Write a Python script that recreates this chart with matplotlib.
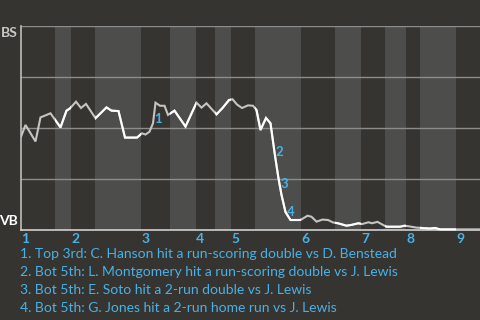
import numpy as np
import matplotlib
matplotlib.use("Agg")
import matplotlib.pyplot as plt
import matplotlib.transforms as mtransforms
from matplotlib.patches import Rectangle

plt.rcParams['font.family'] = ['Lato', 'DejaVu Sans']

# play number along x, home (BS) win probability in percent
plays = [0, 0.9, 2.9, 3.9, 5.9, 7.9, 9.1, 9.8, 11, 12, 13, 14.9, 17.1, 18.1, 19.5,
         20.8, 23.2, 24.2, 24.9, 25.7, 26.4, 26.9, 27.8, 28.7, 29.4, 30.7, 32.9,
         35.1, 36.1, 37.1, 39.1, 40.3, 41.6, 42.3, 43.2, 44.2, 45.4, 46.4, 47.1,
         47.9, 49.0, 49.9, 50.8, 51.5, 52.1, 52.9, 53.9, 55.9, 57.3, 58.1, 59.1,
         60.3, 61.4, 62.4, 63.4, 65.1, 66.1, 67.5, 68.2, 69.5, 70.2, 71.3, 72.1,
         73.1, 75.8, 76.7, 77.6, 79.0, 81.8, 82.8, 83.8, 87.0, 91.8]
win_prob = [45.7, 51.5, 43.4, 55.2, 57.2, 50.3, 58.5, 59.6, 62.9, 59.8, 61.8, 54.8,
            60.1, 58.5, 58.3, 45.3, 45.3, 47.4, 46.8, 48.2, 52.3, 62.4, 60.9, 60.9,
            56.4, 58.5, 50.7, 62.4, 60.0, 62.1, 56.7, 59.8, 63.7, 64.1, 61.5, 59.8,
            61.1, 60.9, 58.8, 49.0, 54.9, 52.3, 36.4, 25.3, 17.2, 8.8, 4.9, 4.9,
            7.0, 6.5, 4.1, 5.1, 4.9, 3.7, 3.3, 2.1, 2.5, 3.3, 2.9, 3.8, 3.3, 4.0,
            2.9, 1.6, 1.6, 2.1, 1.8, 1.2, 0.7, 1.0, 0.3, 0.3, 0.3]

inning_start = [0, 10, 24, 35, 42, 56, 68, 77, 87]
bottom_start = [6.8, 14.8, 29.8, 38.8, 46.8, 62.8, 72.8, 79.8]
innings = ['1', '2', '3', '4', '5', '6', '7', '8', '9']

event_plays = [26.5, 50.7, 51.7, 52.9]
event_labels = ['1', '2', '3', '4']
notes = [
    "1. Top 3rd: C. Hanson hit a run-scoring double vs D. Benstead",
    "2. Bot 5th: L. Montgomery hit a run-scoring double vs J. Lewis",
    "3. Bot 5th: E. Soto hit a 2-run double vs J. Lewis",
    "4. Bot 5th: G. Jones hit a 2-run home run vs J. Lewis",
]

bg = '#363430'
band = '#4d4d4b'
blue = '#48b2e8'
x_max = 91.8

fig = plt.figure(figsize=(4.8, 3.2), dpi=100, facecolor=bg)
ax = fig.add_axes([21 / 480, 90 / 320, 459 / 480, 204 / 320])
ax.set_facecolor(bg)
ax.set_xlim(0, x_max)
ax.set_ylim(0, 100)

# bottom half-inning bands
bands = []
for i, b in enumerate(bottom_start):
    end = inning_start[i + 1] if i + 1 < len(inning_start) else x_max
    ax.axvspan(b, end, color=band, lw=0, zorder=0)
    bands.append((b, end))

for y in [25, 50, 75, 100]:
    ax.axhline(y, color='#8c8c8a', lw=1.0, zorder=1)

for s in ['top', 'right']:
    ax.spines[s].set_visible(False)
ax.spines['left'].set_color('#bdbdbb')
ax.spines['bottom'].set_color('#d0d0d0')
ax.spines['left'].set_linewidth(1.2)
ax.spines['bottom'].set_linewidth(1.2)
ax.set_xticks([])
ax.set_yticks([])

# line: gray in the top halves, white in the bottom halves
ax.plot(plays, win_prob, color='#c4c4c2', lw=1.5, zorder=3, solid_joinstyle='miter')
for b, e in bands:
    ln, = ax.plot(plays, win_prob, color='white', lw=1.5, zorder=4, solid_joinstyle='miter')
    clip = Rectangle((b, -10), e - b, 120, transform=ax.transData)
    ln.set_clip_path(clip)

for p, lab in zip(event_plays, event_labels):
    ax.text(p + 0.2, np.interp(p, plays, win_prob), lab, color=blue,
            fontsize=9.5, fontweight='bold', ha='left', va='center', zorder=5)

fig.text(18 / 480, 1 - 33 / 320, 'BS', color='#c8c8c6', fontsize=10,
         fontweight='bold', ha='right', va='center')
fig.text(18 / 480, 1 - 221 / 320, 'VB', color='white', fontsize=10,
         fontweight='bold', ha='right', va='center')

trans = mtransforms.blended_transform_factory(ax.transData, fig.transFigure)
for s, lab in zip(inning_start, innings):
    ax.text(s + 0.05, 1 - 239 / 320, lab, transform=trans, color=blue,
            fontsize=10, fontweight='bold', ha='left', va='center', clip_on=False)

for k, note in enumerate(notes):
    fig.text(20 / 480, 1 - (254.5 + 18 * k) / 320, note, color=blue,
             fontsize=10, ha='left', va='center')

fig.savefig('out.png', dpi=100, facecolor=bg)
